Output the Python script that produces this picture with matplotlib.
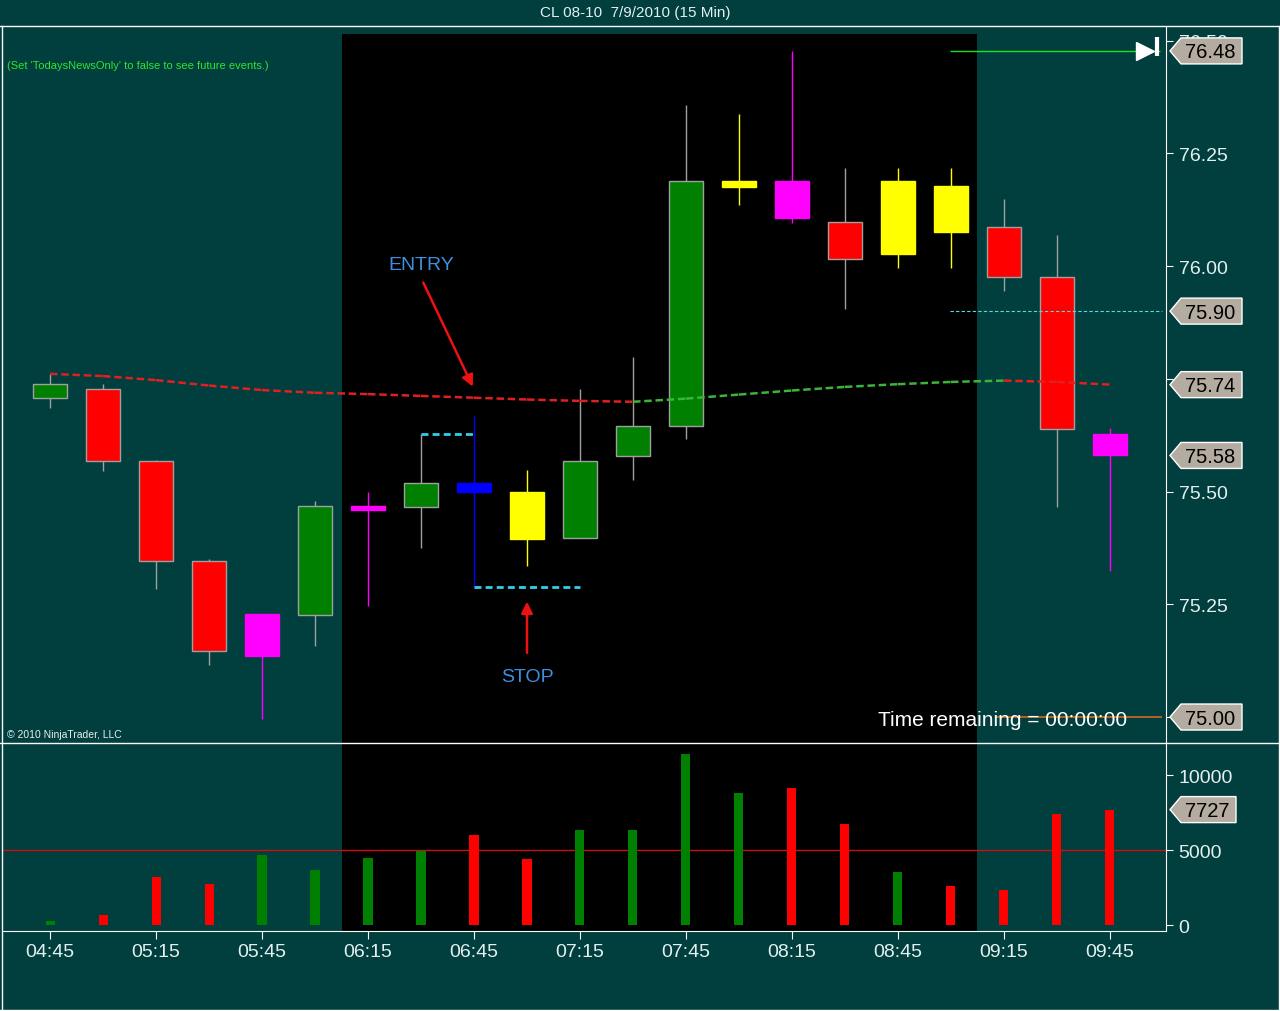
import matplotlib
matplotlib.use('Agg')
import matplotlib.pyplot as plt
from matplotlib.patches import Rectangle, Polygon
from matplotlib.lines import Line2D
from matplotlib.transforms import IdentityTransform

plt.rcParams['font.family'] = ['Liberation Sans', 'DejaVu Sans']

# 15 min bars, CL 08-10 on 7/9/2010
times = ['04:45', '05:00', '05:15', '05:30', '05:45', '06:00', '06:15', '06:30', '06:45', '07:00', '07:15',
         '07:30', '07:45', '08:00', '08:15', '08:30', '08:45', '09:00', '09:15', '09:30', '09:45']
opens = [75.707, 75.727, 75.567, 75.347, 75.136, 75.227, 75.458, 75.466, 75.518, 75.498, 75.396,
         75.578, 75.646, 76.176, 76.188, 76.097, 76.027, 76.177, 76.087, 75.976, 75.628]
highs = [75.761, 75.738, 75.570, 75.350, 75.228, 75.480, 75.499, 75.628, 75.668, 75.548, 75.727,
         75.798, 76.358, 76.337, 76.476, 76.217, 76.217, 76.217, 76.149, 76.069, 75.640]
lows = [75.685, 75.546, 75.284, 75.115, 74.996, 75.157, 75.246, 75.375, 75.288, 75.335, 75.396,
        75.525, 75.616, 76.136, 76.096, 75.905, 75.996, 75.996, 75.945, 75.465, 75.324]
closes = [75.738, 75.568, 75.347, 75.147, 75.228, 75.468, 75.469, 75.518, 75.498, 75.395, 75.567,
          75.646, 76.188, 76.188, 76.106, 76.016, 76.188, 76.076, 75.976, 75.639, 75.580]
bar_colors = ['green', 'red', 'red', 'red', 'magenta', 'green', 'magenta', 'green', 'blue', 'yellow', 'green',
              'green', 'green', 'yellow', 'magenta', 'red', 'yellow', 'yellow', 'red', 'red', 'magenta']
volumes = [320, 720, 3250, 2770, 4700, 3700, 4500, 4970, 6030, 4430, 6370,
           6370, 11430, 8830, 9170, 6770, 3570, 2630, 2370, 7430, 7727]
ma = [75.761, 75.756, 75.747, 75.735, 75.725, 75.719, 75.716, 75.712, 75.708, 75.704, 75.701,
      75.699, 75.706, 75.715, 75.724, 75.732, 75.738, 75.743, 75.746, 75.743, 75.737]

entry_price = 75.628
stop_price = 75.288
target_price = 76.477
level_price = 75.90
price_ticks = [75.00, 75.25, 75.50, 75.75, 76.00, 76.25, 76.50]
hidden_ticks = [75.00, 75.75]  # covered by the price tags
volume_ticks = [0, 5000, 10000]
session_start, session_end = 5.5, 17.5

BG = '#013e3e'
FG = '#e4f0f0'
W, H = 1280, 1012


def fx(px):
    return px / W


def fy(py):
    return 1 - py / H


fig = plt.figure(figsize=(12.8, 10.12), dpi=100, facecolor=BG)
ax = fig.add_axes([fx(3), fy(744), fx(1166) - fx(3), fy(28) - fy(744)], facecolor=BG)
axv = fig.add_axes([fx(3), fy(932), fx(1166) - fx(3), fy(745) - fy(932)], facecolor=BG)

x = list(range(len(times)))
for a in (ax, axv):
    a.set_xlim(-0.887, 21.057)
    for s in ('top', 'left'):
        a.spines[s].set_visible(False)
    a.spines['right'].set_color('white')
    a.yaxis.tick_right()
    a.tick_params(axis='y', colors='white', labelcolor=FG, length=5, labelsize=14, pad=4)

ax.axvspan(session_start, session_end, ymax=0.9902, color='black', zorder=0, lw=0)
axv.axvspan(session_start, session_end, color='black', zorder=0, lw=0)

ax.set_ylim(74.9424, 76.530)
ax.spines['bottom'].set_visible(False)
ax.set_xticks([])
ax.set_yticks(price_ticks)
ax.set_yticklabels(['' if t in hidden_ticks else '%.2f' % t for t in price_ticks])

# candles
for i in x:
    col = bar_colors[i]
    plain = col in ('green', 'red')
    wick = '#a0a0a0' if plain else col
    ax.vlines(i, lows[i], highs[i], color=wick, lw=1, zorder=2)
    lo = min(opens[i], closes[i])
    hgt = max(abs(closes[i] - opens[i]), 0.008)
    fc = {'green': '#008000', 'red': '#ff0000'}.get(col, col)
    ax.add_patch(Rectangle((i - 0.32, lo), 0.64, hgt, facecolor=fc,
                           edgecolor='#a0a0a0' if plain else fc, lw=1, zorder=3))

# moving average, coloured by slope
for i in range(len(ma) - 1):
    c = '#3cb43c' if ma[i + 1] > ma[i] else '#e02020'
    ax.plot([i, i + 1], [ma[i], ma[i + 1]], color=c, lw=1.8, ls=(0, (3, 1.5)), zorder=4)

# entry / stop markers
ax.hlines(entry_price, 7, 8, colors='#30d0e8', lw=2, linestyles=(0, (2.5, 1.5)), zorder=4)
ax.hlines(stop_price, 8, 10, colors='#30d0e8', lw=2, linestyles=(0, (2.5, 1.5)), zorder=4)
ax.text(7.0, 76.003, 'ENTRY', color='#3f8fe0', fontsize=14, ha='center', va='center')
ax.annotate('', xy=(8.0, 75.727), xytext=(7.02, 75.969),
            arrowprops=dict(arrowstyle='-|>', color='#ee1111', lw=1.8, mutation_scale=17))
ax.text(9.0, 75.090, 'STOP', color='#3f8fe0', fontsize=14, ha='center', va='center')
ax.annotate('', xy=(9.0, 75.262), xytext=(9.0, 75.136),
            arrowprops=dict(arrowstyle='-|>', color='#ee1111', lw=1.8, mutation_scale=17))

# right side levels
ax.hlines(target_price, 16.98, 20.94, colors='#22dd22', lw=1, zorder=4)
ax.plot([20.66], [target_price], marker='>', color='white', markersize=13, zorder=5)
ax.vlines(20.88, 76.466, 76.508, colors='white', lw=3, zorder=5)
ax.hlines(level_price, 16.98, 20.98, colors='#50e0e0', lw=0.8, linestyles=(0, (3, 2)), zorder=4)
ax.hlines(75.0, 17.85, 20.98, colors='#d2691e', lw=1.2, zorder=4)

# volume panel
vcols = ['#008000' if closes[i] >= opens[i] else '#ff0000' for i in x]
axv.bar(x, volumes, width=0.17, color=vcols, zorder=2)
axv.axhline(5000, color='#cc1010', lw=1, zorder=1)
axv.set_ylim(-367, 12100)
axv.spines['bottom'].set_color('white')
axv.set_yticks(volume_ticks)
axv.set_yticklabels([str(t) for t in volume_ticks])
axv.set_xticks(x[::2])
axv.set_xticklabels(times[::2])
axv.tick_params(axis='x', colors='white', labelcolor=FG, length=6, labelsize=14, pad=3)


def tag(a, value, text, right=1242, tx=1210):
    x0, y0 = a.transData.transform((a.get_xlim()[1], value))
    x0 += 4
    verts = [(x0, y0), (x0 + 11, y0 + 13), (right, y0 + 13), (right, y0 - 13), (x0 + 11, y0 - 13)]
    fig.add_artist(Polygon(verts, closed=True, facecolor='#b4aca0', edgecolor='white', lw=1,
                           transform=IdentityTransform(), zorder=5))
    fig.text(tx, y0 - 1, text, transform=IdentityTransform(), ha='center', va='center',
             fontsize=14.5, color='black', zorder=6)


tag(ax, target_price, '%.2f' % target_price)
tag(ax, level_price, '%.2f' % level_price)
tag(ax, ma[-1], '%.2f' % ma[-1])
tag(ax, closes[-1], '%.2f' % closes[-1])
tag(ax, 75.0, '75.00')
tag(axv, volumes[-1], str(volumes[-1]), right=1236, tx=1207)

# texts
fig.text(fx(635), fy(13), 'CL 08-10  7/9/2010 (15 Min)', ha='center', va='center', fontsize=11, color=FG)
fig.text(fx(7), fy(66), "(Set 'TodaysNewsOnly' to false to see future events.)", ha='left', va='center',
         fontsize=8, color='#2fe62f')
fig.text(fx(7), fy(735), '\u00a9 2010 NinjaTrader, LLC', ha='left', va='center', fontsize=7.5, color=FG)
fig.text(fx(1003), fy(720), 'Time remaining = 00:00:00', ha='center', va='center', fontsize=15,
         color='white', zorder=5)

# frame lines
for xs, ys in [((0, 1280), (27, 27)), ((0, 1280), (744, 744)), ((1.5, 1.5), (27, 1011)),
               ((1278.5, 1278.5), (27, 1011)), ((0, 1280), (1010.5, 1010.5))]:
    fig.add_artist(Line2D([fx(v) for v in xs], [fy(v) for v in ys], color='white', lw=1,
                          transform=fig.transFigure, zorder=4))

fig.savefig('out.png', dpi=100, facecolor=BG)
